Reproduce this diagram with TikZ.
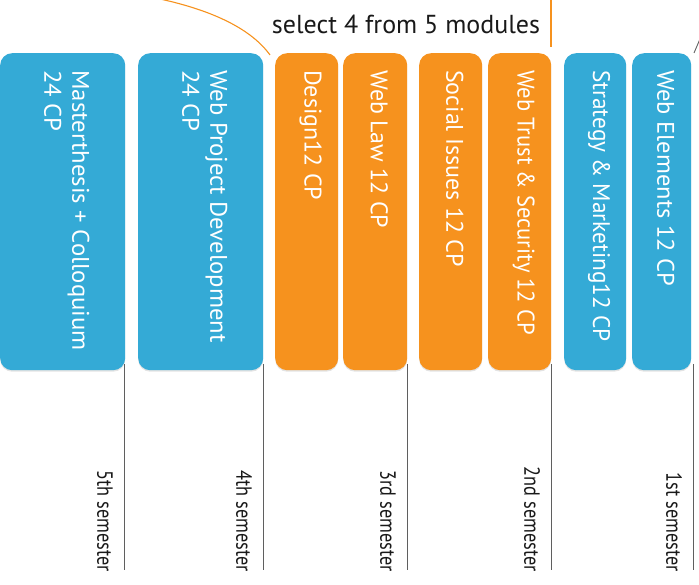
\documentclass[tikz,border=0pt]{standalone}
\usepackage{fontspec}
\setmainfont{PT Sans}
\usetikzlibrary{shadows,calc}
\definecolor{mblue}{RGB}{52,170,214}
\definecolor{morange}{RGB}{246,146,30}
\definecolor{mline}{RGB}{95,95,95}
\definecolor{mtext}{RGB}{25,25,25}
\tikzset{
  modbox/.style={draw=none, rounded corners=12pt, minimum height=317pt, anchor=north west, inner sep=0pt,
    drop shadow={opacity=0.22, shadow xshift=0pt, shadow yshift=-1.5pt}},
  bluebox/.style={modbox, fill=mblue},
  orangebox/.style={modbox, fill=morange},
  modtext/.style={rotate=-90, anchor=west, text=white, font=\fontsize{24}{28}\selectfont, align=left, inner sep=0pt},
  semtext/.style={rotate=-90, anchor=east, text=mtext, font=\fontsize{22}{24}\selectfont, inner sep=0pt},
  semline/.style={draw=mline, line width=0.9pt},
  selline/.style={draw=morange, line width=1.1pt}
}
\begin{document}
\begin{tikzpicture}[x=1pt,y=-1pt]
\useasboundingbox (0,0) rectangle (699,585);
% module boxes
\node[bluebox, minimum width=125pt] (m1) at (0,53) {};
\node[bluebox, minimum width=125pt] (m2) at (138,53) {};
\node[orangebox, minimum width=63pt] (m3) at (275,53) {};
\node[orangebox, minimum width=64pt] (m4) at (343,53) {};
\node[orangebox, minimum width=63pt] (m5) at (419,53) {};
\node[orangebox, minimum width=63pt] (m6) at (488,53) {};
\node[bluebox, minimum width=62pt] (m7) at (564,53) {};
\node[bluebox, minimum width=59pt] (m8) at (632,53) {};
% texts
\node[modtext] (t1) at ($(m1.north)+(4,17)$) {\scalebox{1.03}[1]{Masterthesis + Colloquium}\\\scalebox{1.03}[1]{24 CP}};
\node[modtext] (t2) at ($(m2.north)+(4,17)$) {\scalebox{1.03}[1]{Web Project Development}\\\scalebox{1.03}[1]{24 CP}};
\node[modtext] (t3) at ($(m3.north)+(4,17)$) {Design12 CP};
\node[modtext] (t4) at ($(m4.north)+(4,17)$) {Web Law 12 CP};
\node[modtext] (t5) at ($(m5.north)+(4,17)$) {Social Issues 12 CP};
\node[modtext] (t6) at ($(m6.north)+(4,17)$) {\scalebox{0.94}[1]{Web Trust \& Security 12 CP}};
\node[modtext] (t7) at ($(m7.north)+(4,17)$) {\scalebox{0.97}[1]{Strategy \& Marketing12 CP}};
\node[modtext] (t8) at ($(m8.north)+(4,17)$) {\scalebox{1.02}[1]{Web Elements 12 CP}};
% semester dividers
\coordinate (d1a) at (124,364); \coordinate (d1b) at (124,570);
\coordinate (d2a) at (263,364); \coordinate (d2b) at (263,570);
\coordinate (d3a) at (407,364); \coordinate (d3b) at (407,570);
\coordinate (d4a) at (551,364); \coordinate (d4b) at (551,570);
\coordinate (d5a) at (693,364); \coordinate (d5b) at (693,570);
\draw[semline] (d1a) -- (d1b);
\draw[semline] (d2a) -- (d2b);
\draw[semline] (d3a) -- (d3b);
\draw[semline] (d4a) -- (d4b);
\draw[semline] (d5a) -- (d5b);
\node[semtext] (s5) at ($(d1b)+(-19,2)$) {\scalebox{0.83}[1]{5th semester}};
\node[semtext] (s4) at ($(d2b)+(-19,2)$) {\scalebox{0.83}[1]{4th semester}};
\node[semtext] (s3) at ($(d3b)+(-19,2)$) {\scalebox{0.83}[1]{3rd semester}};
\node[semtext] (s2) at ($(d4b)+(-19,2)$) {\scalebox{0.83}[1]{2nd semester}};
\node[semtext] (s1) at ($(d5b)+(-19,2)$) {\scalebox{0.83}[1]{1st semester}};
% selection bracket
\node[text=mtext, font=\fontsize{26}{30}\selectfont, inner sep=0pt] (sel) at (406,24) {select 4 from 5 modules};
\coordinate (a0) at (160,-1);
\coordinate (a1) at (270,55);
\draw[selline] (a0) .. controls (215,11) and (252,30) .. (a1);
\coordinate (b0) at (551,-1);
\coordinate (b1) at (551,47);
\draw[selline] (b0) -- (b1);
\coordinate (c0) at (694,53);
\coordinate (c1) at (700,39);
\draw[semline] (c0) -- (c1);
\end{tikzpicture}
\end{document}
